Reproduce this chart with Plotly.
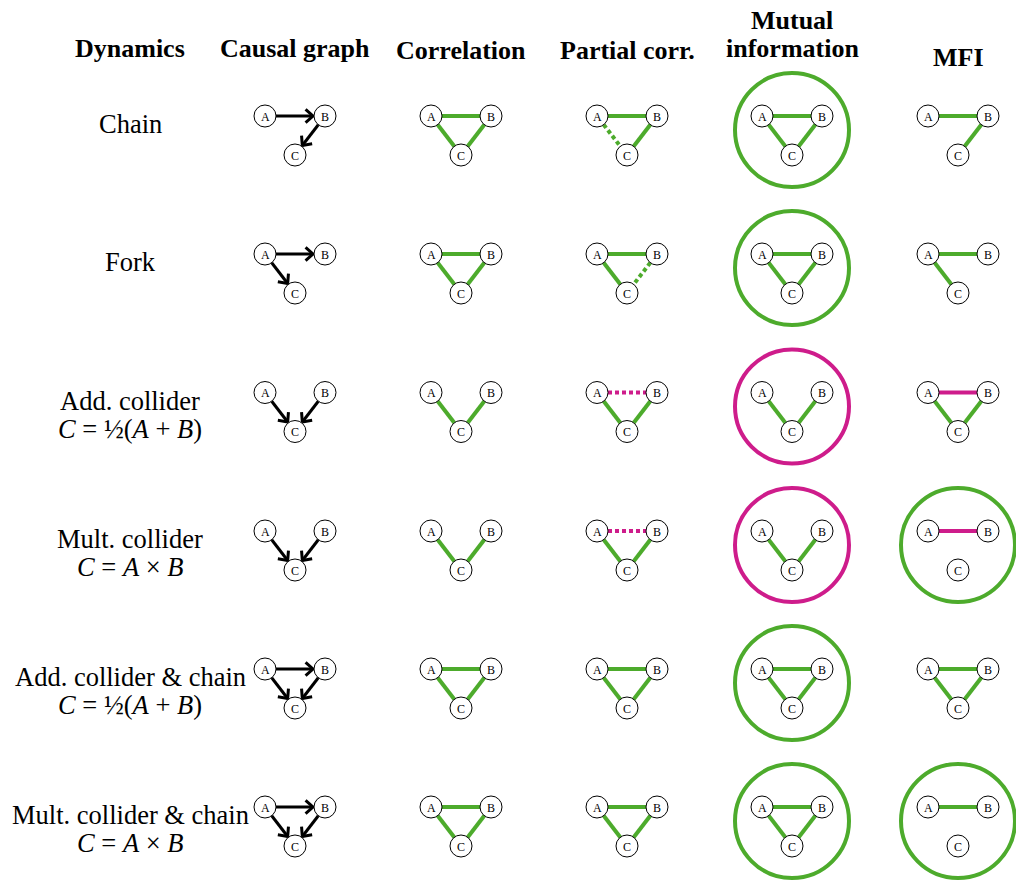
import math
import plotly.graph_objects as go

# ---------------- data ----------------
headers = ["Dynamics", "Causal graph", "Correlation", "Partial corr.", "Mutual", "information", "MFI"]
dynamics = ["Chain", "Fork", "Add. collider", "Mult. collider",
            "Add. collider &amp; chain", "Mult. collider &amp; chain"]
equations = ["", "",
             "<i>C</i> = ½(<i>A</i> + <i>B</i>)",
             "<i>C</i> = <i>A</i> × <i>B</i>",
             "<i>C</i> = ½(<i>A</i> + <i>B</i>)",
             "<i>C</i> = <i>A</i> × <i>B</i>"]

# causal (directed) edges per dynamics
causal_edges = [
    [("A", "B"), ("B", "C")],
    [("A", "B"), ("A", "C")],
    [("A", "C"), ("B", "C")],
    [("A", "C"), ("B", "C")],
    [("A", "B"), ("A", "C"), ("B", "C")],
    [("A", "B"), ("A", "C"), ("B", "C")],
]
# undirected edges: (pair, colour code, style)  g=green m=magenta, s=solid d=dotted
corr_edges = [
    [("AB", "g", "s"), ("AC", "g", "s"), ("BC", "g", "s")],
    [("AB", "g", "s"), ("AC", "g", "s"), ("BC", "g", "s")],
    [("AC", "g", "s"), ("BC", "g", "s")],
    [("AC", "g", "s"), ("BC", "g", "s")],
    [("AB", "g", "s"), ("AC", "g", "s"), ("BC", "g", "s")],
    [("AB", "g", "s"), ("AC", "g", "s"), ("BC", "g", "s")],
]
partial_edges = [
    [("AB", "g", "s"), ("AC", "g", "d"), ("BC", "g", "s")],
    [("AB", "g", "s"), ("AC", "g", "s"), ("BC", "g", "d")],
    [("AB", "m", "d"), ("AC", "g", "s"), ("BC", "g", "s")],
    [("AB", "m", "d"), ("AC", "g", "s"), ("BC", "g", "s")],
    [("AB", "g", "s"), ("AC", "g", "s"), ("BC", "g", "s")],
    [("AB", "g", "s"), ("AC", "g", "s"), ("BC", "g", "s")],
]
mi_edges = [
    [("AB", "g", "s"), ("AC", "g", "s"), ("BC", "g", "s")],
    [("AB", "g", "s"), ("AC", "g", "s"), ("BC", "g", "s")],
    [("AC", "g", "s"), ("BC", "g", "s")],
    [("AC", "g", "s"), ("BC", "g", "s")],
    [("AB", "g", "s"), ("AC", "g", "s"), ("BC", "g", "s")],
    [("AB", "g", "s"), ("AC", "g", "s"), ("BC", "g", "s")],
]
mi_triplet = ["g", "g", "m", "m", "g", "g"]
mfi_edges = [
    [("AB", "g", "s"), ("BC", "g", "s")],
    [("AB", "g", "s"), ("AC", "g", "s")],
    [("AB", "m", "s"), ("AC", "g", "s"), ("BC", "g", "s")],
    [("AB", "m", "s")],
    [("AB", "g", "s"), ("AC", "g", "s"), ("BC", "g", "s")],
    [("AB", "g", "s")],
]
mfi_triplet = ["", "", "", "g", "", "g"]

# ---------------- layout / style ----------------
W, H = 1016, 880
COLORS = {"g": "#4DAB2C", "m": "#CE1C8B"}
FONT = "Liberation Serif, Times New Roman, serif"
col_x = [130, 295, 461, 627, 792, 958]
row_y = [116, 254, 392.5, 531, 669, 807]
header_x = [130, 295, 461, 627, 792, 792, 958]
header_y = [48, 48, 50, 50, 20, 48, 57]
NODE_R = 11
DX, DY = 30, 39

def node_pos(cx, ry):
    return {"A": (cx - DX, ry), "B": (cx + DX, ry), "C": (cx, ry + DY)}

fig = go.Figure()
shapes = []
annotations = []

def add_line(xs, ys, color, width, dash="solid"):
    fig.add_trace(go.Scatter(x=xs, y=ys, mode="lines", hoverinfo="skip",
                             line=dict(color=color, width=width, dash=dash),
                             showlegend=False))

def add_nodes(pos):
    for name, (x, y) in pos.items():
        shapes.append(dict(type="circle", xref="x", yref="y",
                           x0=x - NODE_R, x1=x + NODE_R, y0=y - NODE_R, y1=y + NODE_R,
                           line=dict(color="black", width=1), fillcolor="white", layer="above"))
        annotations.append(dict(x=x, y=y + 0.5, xref="x", yref="y", text=name, showarrow=False,
                                font=dict(family=FONT, size=12, color="black"),
                                xanchor="center", yanchor="middle"))

def add_undirected(pos, edges):
    for pair, c, st in edges:
        (x0, y0), (x1, y1) = pos[pair[0]], pos[pair[1]]
        if st == "d":
            dx, dy = x1 - x0, y1 - y0
            L = math.hypot(dx, dy)
            ux, uy = dx / L, dy / L
            x0, y0 = x0 + ux * NODE_R, y0 + uy * NODE_R
            x1, y1 = x1 - ux * NODE_R, y1 - uy * NODE_R
            add_line([x0, x1], [y0, y1], COLORS[c], 4, dash="4px,3px")
        else:
            add_line([x0, x1], [y0, y1], COLORS[c], 4)

def add_triplet(cx, ry, c):
    if c:
        R = 57
        cy = ry + 14
        shapes.append(dict(type="circle", xref="x", yref="y",
                           x0=cx - R, x1=cx + R, y0=cy - R, y1=cy + R,
                           line=dict(color=COLORS[c], width=4), fillcolor="rgba(0,0,0,0)",
                           layer="above"))

def add_arrow(pos, src, dst):
    (x0, y0), (x1, y1) = pos[src], pos[dst]
    dx, dy = x1 - x0, y1 - y0
    L = math.hypot(dx, dy)
    ux, uy = dx / L, dy / L
    sx, sy = x0 + ux * NODE_R, y0 + uy * NODE_R
    tx, ty = x1 - ux * (NODE_R + 1), y1 - uy * (NODE_R + 1)
    add_line([sx, tx], [sy, ty], "black", 3)
    hl, ang = 10, math.radians(42)
    pts_x, pts_y = [], []
    for s in (1, -1):
        ca, sa = math.cos(s * ang), math.sin(s * ang)
        bx = -(ux * ca - uy * sa)
        by = -(ux * sa + uy * ca)
        pts_x.append(tx + bx * hl)
        pts_y.append(ty + by * hl)
    add_line([pts_x[0], tx, pts_x[1]], [pts_y[0], ty, pts_y[1]], "black", 3)

# headers
for i, h in enumerate(headers):
    annotations.append(dict(x=header_x[i], y=header_y[i], xref="x", yref="y", text="<b>" + h + "</b>",
                            showarrow=False, font=dict(family=FONT, size=26, color="black"),
                            xanchor="center", yanchor="middle", align="center"))

for r, name in enumerate(dynamics):
    ry = row_y[r]
    annotations.append(dict(x=col_x[0], y=ry + 8, xref="x", yref="y", text=name,
                            showarrow=False, font=dict(family=FONT, size=26.5, color="black"),
                            xanchor="center", yanchor="middle"))
    if equations[r]:
        annotations.append(dict(x=col_x[0], y=ry + 36, xref="x", yref="y", text=equations[r],
                                showarrow=False, font=dict(family=FONT, size=26.5, color="black"),
                                xanchor="center", yanchor="middle"))

    # causal graph
    pos = node_pos(col_x[1], ry)
    for s, d in causal_edges[r]:
        add_arrow(pos, s, d)
    add_nodes(pos)

    # correlation
    pos = node_pos(col_x[2], ry)
    add_undirected(pos, corr_edges[r])
    add_nodes(pos)

    # partial correlation
    pos = node_pos(col_x[3], ry)
    add_undirected(pos, partial_edges[r])
    add_nodes(pos)

    # mutual information
    pos = node_pos(col_x[4], ry)
    add_undirected(pos, mi_edges[r])
    add_triplet(col_x[4], ry, mi_triplet[r])
    add_nodes(pos)

    # MFI
    pos = node_pos(col_x[5], ry)
    add_undirected(pos, mfi_edges[r])
    add_triplet(col_x[5], ry, mfi_triplet[r])
    add_nodes(pos)

fig.update_layout(
    width=W, height=H, autosize=False,
    margin=dict(l=0, r=0, t=0, b=0),
    paper_bgcolor="white", plot_bgcolor="white",
    xaxis=dict(range=[0, W], visible=False, fixedrange=True),
    yaxis=dict(range=[H, 0], visible=False, fixedrange=True),
    shapes=shapes, annotations=annotations, showlegend=False,
)
fig.write_html("out.html", config={"displayModeBar": False},
               post_script="document.body.style.margin='0';document.body.style.overflow='hidden';")
